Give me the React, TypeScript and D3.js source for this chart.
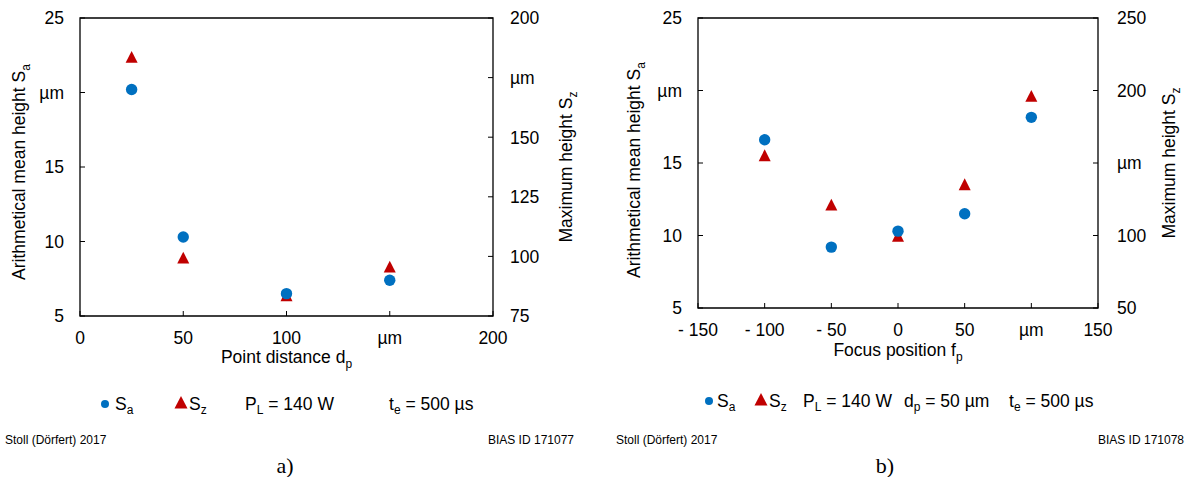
import React from "react";
import * as d3 from "d3";

// ---------- Data ----------
const aX = [25, 50, 100, 150];
const aSa = [20.2, 10.3, 6.5, 7.4];
const aSz = [183.5, 99.3, 83.5, 95.5];

const bX = [-100, -50, 0, 50, 100];
const bSa = [16.6, 9.2, 10.3, 11.5, 18.15];
const bSz = [155, 121, 99.5, 135, 196];

const aXTicks = [0, 50, 100, 150, 200];
const aXLabels = ["0", "50", "100", "µm", "200"];
const aYTicks = [5, 10, 15, 20, 25];
const aYLabels = ["5", "10", "15", "µm", "25"];
const aY2Ticks = [75, 100, 125, 150, 175, 200];
const aY2Labels = ["75", "100", "125", "150", "µm", "200"];

const bXTicks = [-150, -100, -50, 0, 50, 100, 150];
const bXLabels = ["- 150", "- 100", "- 50", "0", "50", "µm", "150"];
const bYTicks = [5, 10, 15, 20, 25];
const bYLabels = ["5", "10", "15", "µm", "25"];
const bY2Ticks = [50, 100, 150, 200, 250];
const bY2Labels = ["50", "100", "µm", "200", "250"];

const BLUE = "#0070C0";
const RED = "#C00000";
const FONT = "Liberation Sans, Arial, sans-serif";
const FS = 17.5;
const SUB = 12;

type PanelProps = {
  left: number; right: number; top: number; bottom: number;
  xDomain: [number, number]; yDomain: [number, number]; y2Domain: [number, number];
  xTicks: number[]; xLabels: string[]; yTicks: number[]; yLabels: string[];
  y2Ticks: number[]; y2Labels: string[];
  xs: number[]; sa: number[]; sz: number[];
  xTitle: string; xSub: string; xTitleY: number;
  yTitleX: number; y2TitleX: number; titleCY: number; y2TitleCY: number;
  y2Gap: number;
};

function Triangle({ cx, cy, s }: { cx: number; cy: number; s: number }) {
  const h = s * 0.9;
  return (
    <path
      d={`M${cx},${cy - h / 2 - 1}L${cx + s / 2},${cy + h / 2}L${cx - s / 2},${cy + h / 2}Z`}
      fill={RED}
    />
  );
}

function Panel(p: PanelProps) {
  const x = d3.scaleLinear().domain(p.xDomain).range([p.left, p.right]);
  const y = d3.scaleLinear().domain(p.yDomain).range([p.bottom, p.top]);
  const y2 = d3.scaleLinear().domain(p.y2Domain).range([p.bottom, p.top]);
  const tk = 5;
  return (
    <g fontFamily={FONT} fill="#000">
      <path
        d={`M${p.left},${p.top}H${p.right}V${p.bottom}H${p.left}Z`}
        fill="none"
        stroke="#000"
        strokeWidth={1.3}
      />
      {p.yTicks.map((t, i) => (
        <g key={"y" + i}>
          <line x1={p.left} x2={p.left + tk} y1={y(t)} y2={y(t)} stroke="#000" />
          <text x={p.left - 16} y={y(t)} dy="0.36em" textAnchor="end" fontSize={FS}>
            {p.yLabels[i]}
          </text>
        </g>
      ))}
      {p.y2Ticks.map((t, i) => (
        <g key={"y2" + i}>
          <line x1={p.right - tk} x2={p.right} y1={y2(t)} y2={y2(t)} stroke="#000" />
          <text x={p.right + p.y2Gap} y={y2(t)} dy="0.36em" textAnchor="start" fontSize={FS}>
            {p.y2Labels[i]}
          </text>
        </g>
      ))}
      {p.xTicks.map((t, i) => (
        <g key={"x" + i}>
          <line x1={x(t)} x2={x(t)} y1={p.bottom} y2={p.bottom - tk} stroke="#000" />
          <text x={x(t)} y={p.bottom + 28} textAnchor="middle" fontSize={FS}>
            {p.xLabels[i]}
          </text>
        </g>
      ))}
      <text x={(p.left + p.right) / 2} y={p.xTitleY} textAnchor="middle" fontSize={FS}>
        {p.xTitle}
        <tspan fontSize={SUB} dy={5}>{p.xSub}</tspan>
      </text>
      <text
        transform={`translate(${p.yTitleX},${p.titleCY}) rotate(-90)`}
        textAnchor="middle"
        fontSize={FS}
      >
        Arithmetical mean height S<tspan fontSize={SUB} dy={5}>a</tspan>
      </text>
      <text
        transform={`translate(${p.y2TitleX},${p.y2TitleCY}) rotate(-90)`}
        textAnchor="middle"
        fontSize={FS}
      >
        Maximum height S<tspan fontSize={SUB} dy={5}>z</tspan>
      </text>
      {p.xs.map((v, i) => (
        <Triangle key={"t" + i} cx={x(v)} cy={y2(p.sz[i])} s={12} />
      ))}
      {p.xs.map((v, i) => (
        <circle key={"c" + i} cx={x(v)} cy={y(p.sa[i])} r={5.7} fill={BLUE} />
      ))}
    </g>
  );
}

function Sub({ x, y, main, sub, rest }: { x: number; y: number; main: string; sub: string; rest?: string }) {
  return (
    <text x={x} y={y}>
      {main}
      <tspan fontSize={SUB} dy={4}>{sub}</tspan>
      {rest ? <tspan dy={-4}>{rest}</tspan> : null}
    </text>
  );
}

export default function App() {
  return (
    <svg width={1187} height={477} style={{ position: "absolute", left: 0, top: 0, background: "#fff" }}>
      <rect width={1187} height={477} fill="#fff" />
      <Panel
        left={80} right={493} top={18} bottom={316}
        xDomain={[0, 200]} yDomain={[5, 25]} y2Domain={[75, 200]}
        xTicks={aXTicks} xLabels={aXLabels}
        yTicks={aYTicks} yLabels={aYLabels}
        y2Ticks={aY2Ticks} y2Labels={aY2Labels}
        xs={aX} sa={aSa} sz={aSz}
        xTitle="Point distance d" xSub="p" xTitleY={363}
        yTitleX={25} y2TitleX={572} titleCY={172} y2TitleCY={167}
        y2Gap={17}
      />
      <Panel
        left={698} right={1098} top={18} bottom={308}
        xDomain={[-150, 150]} yDomain={[5, 25]} y2Domain={[50, 250]}
        xTicks={bXTicks} xLabels={bXLabels}
        yTicks={bYTicks} yLabels={bYLabels}
        y2Ticks={bY2Ticks} y2Labels={bY2Labels}
        xs={bX} sa={bSa} sz={bSz}
        xTitle="Focus position f" xSub="p" xTitleY={356}
        yTitleX={640} y2TitleX={1175} titleCY={170} y2TitleCY={163}
        y2Gap={19}
      />
      {/* Legend a */}
      <g fontFamily={FONT} fontSize={FS}>
        <circle cx={105} cy={404} r={4} fill={BLUE} />
        <Sub x={115} y={410} main="S" sub="a" />
        <path d="M181,396L187.5,408.5L174.5,408.5Z" fill={RED} />
        <Sub x={189} y={410} main="S" sub="z" />
        <Sub x={245} y={410} main="P" sub="L" rest=" = 140 W" />
        <Sub x={389} y={410} main="t" sub="e" rest=" = 500 µs" />
      </g>
      {/* Legend b */}
      <g fontFamily={FONT} fontSize={FS}>
        <circle cx={709} cy={401} r={4} fill={BLUE} />
        <Sub x={717} y={407} main="S" sub="a" />
        <path d="M761,393L767.5,405.5L754.5,405.5Z" fill={RED} />
        <Sub x={769} y={407} main="S" sub="z" />
        <Sub x={803} y={407} main="P" sub="L" rest=" = 140 W" />
        <Sub x={904} y={407} main="d" sub="p" rest=" = 50 µm" />
        <Sub x={1009} y={407} main="t" sub="e" rest=" = 500 µs" />
      </g>
      {/* Footers */}
      <g fontFamily={FONT} fontSize={12}>
        <text x={5} y={444}>Stoll (Dörfert) 2017</text>
        <text x={574} y={444} textAnchor="end">BIAS ID 171077</text>
        <text x={616} y={444}>Stoll (Dörfert) 2017</text>
        <text x={1184} y={444} textAnchor="end">BIAS ID 171078</text>
      </g>
      <g fontFamily="Liberation Serif, Times New Roman, serif" fontSize={22}>
        <text x={285} y={473} textAnchor="middle">a)</text>
        <text x={885} y={473} textAnchor="middle">b)</text>
      </g>
    </svg>
  );
}
